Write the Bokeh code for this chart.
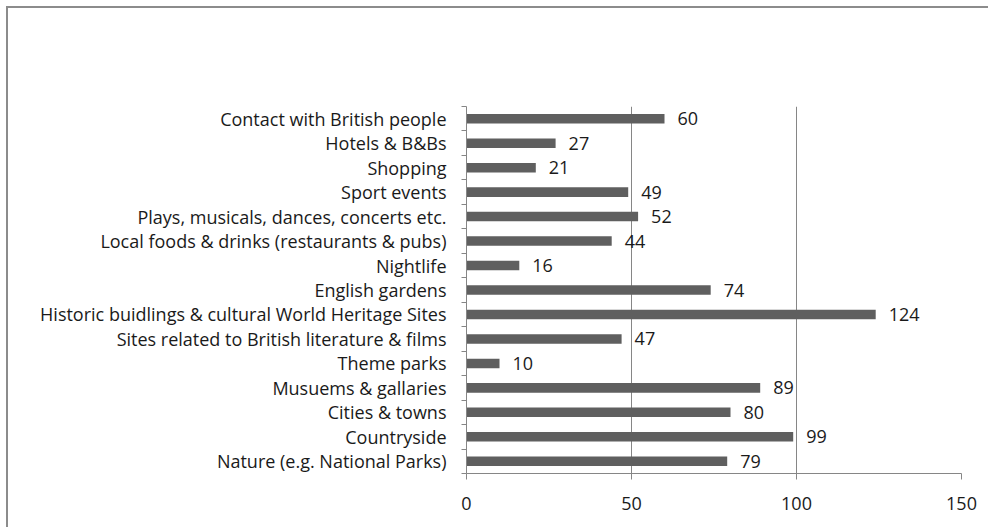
from bokeh.plotting import figure
from bokeh.models import ColumnDataSource, FixedTicker, Range1d
from bokeh.core.properties import value
from bokeh.embed import file_html
from bokeh.resources import INLINE

categories = [
    "Nature (e.g. National Parks)",
    "Countryside",
    "Cities & towns",
    "Musuems & gallaries",
    "Theme parks",
    "Sites related to British literature & films",
    "Historic buidlings & cultural World Heritage Sites",
    "English gardens",
    "Nightlife",
    "Local foods & drinks (restaurants & pubs)",
    "Plays, musicals, dances, concerts etc.",
    "Sport events",
    "Shopping",
    "Hotels & B&Bs",
    "Contact with British people",
]
counts = [79, 99, 80, 89, 10, 47, 124, 74, 16, 44, 52, 49, 21, 27, 60]
x_ticks = [0, 50, 100, 150]

FONT = "Open Sans"
FS = "18px"
TEXT = "#1a1a1a"
GRAY = "#868686"
BAR = "#5f5f5f"

pos = list(range(1, len(categories) + 1))
src = ColumnDataSource(dict(y=pos, v=counts, lab=[str(c) for c in counts]))

p = figure(width=982, height=521, output_backend="svg", toolbar_location=None,
           x_range=Range1d(0, 150), y_range=Range1d(0.5, len(categories) + 0.5),
           min_border_left=458, min_border_right=29, min_border_top=98, min_border_bottom=56)
p.styles = {"border-left": "2px solid #8c8c8c", "border-top": "2px solid #8c8c8c",
            "margin-left": "6px", "margin-top": "6px"}
p.outline_line_color = None
p.background_fill_color = "white"

p.hbar(y="y", right="v", left=0, height=0.39, source=src, fill_color=BAR, line_color=None)
p.text(x="v", y="y", text="lab", source=src, x_offset=13, text_baseline="middle",
       text_align="left", text_font=value(FONT), text_font_size=FS, text_color=TEXT)

# x axis
xa = p.xaxis[0]
xa.ticker = FixedTicker(ticks=x_ticks)
xa.axis_line_color = GRAY
xa.major_tick_line_color = GRAY
xa.major_tick_out = 6
xa.major_tick_in = 0
xa.minor_tick_line_color = None
xa.major_label_text_font = FONT
xa.major_label_text_font_size = FS
xa.major_label_text_color = TEXT
xa.major_label_standoff = 17

# y axis
ya = p.yaxis[0]
ya.ticker = FixedTicker(ticks=pos, minor_ticks=[i + 0.5 for i in range(len(categories) + 1)])
ya.major_label_overrides = {i + 1: c for i, c in enumerate(categories)}
ya.axis_line_color = GRAY
ya.major_tick_out = 0
ya.major_tick_in = 0
ya.major_tick_line_color = None
ya.minor_tick_line_color = GRAY
ya.minor_tick_out = 5
ya.minor_tick_in = 0
ya.major_label_text_font = FONT
ya.major_label_text_font_size = FS
ya.major_label_text_color = TEXT
ya.major_label_standoff = 15

p.xgrid.ticker = FixedTicker(ticks=x_ticks[1:])
p.xgrid.grid_line_color = GRAY
p.ygrid.grid_line_color = None

open("out.html", "w").write(file_html(p, INLINE))
